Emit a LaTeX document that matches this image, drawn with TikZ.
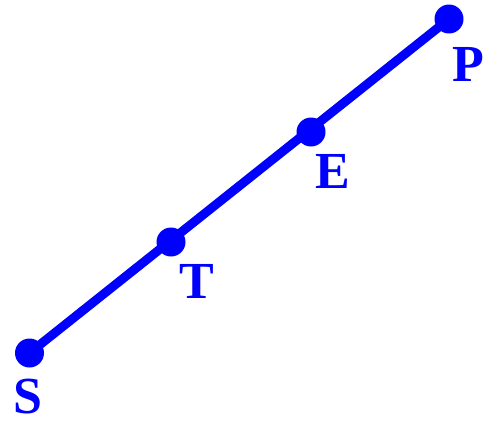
\documentclass[tikz,border=0pt]{standalone}
\usepackage{fontspec}
\setmainfont{Liberation Serif}
\begin{document}
\begin{tikzpicture}[x=1pt,y=-1pt,
  dotnode/.style={circle,fill=blue,inner sep=0pt,minimum size=29pt},
  lbl/.style={text=blue,font=\fontsize{52}{52}\selectfont\bfseries,inner sep=0pt,anchor=center}]
\useasboundingbox (0,0) rectangle (490,423);
\coordinate (S) at (29.5,353);
\coordinate (T) at (171,242);
\coordinate (E) at (311,132);
\coordinate (P) at (449,19);
\draw[blue,line width=9pt] (S) -- (P);
\node[dotnode] (s) at (S) {};
\node[dotnode] (t) at (T) {};
\node[dotnode] (e) at (E) {};
\node[dotnode] (p) at (P) {};
\node[lbl] (ls) at (28,397) {S};
\node[lbl] (lt) at (197,281) {T};
\node[lbl] (le) at (333,171) {E};
\node[lbl] (lp) at (468,64) {P};
\end{tikzpicture}
\end{document}
